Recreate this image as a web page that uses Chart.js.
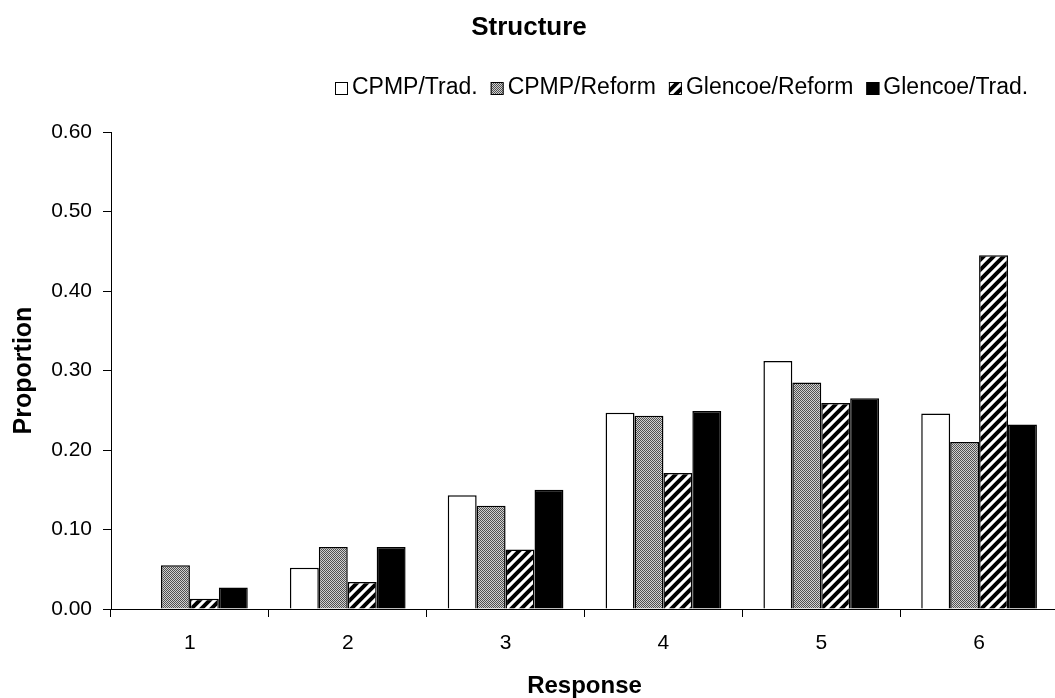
<!DOCTYPE html>
<html>
<head>
<meta charset="utf-8">
<title>Structure</title>
<script src="https://cdn.jsdelivr.net/npm/chart.js@4.4.1/dist/chart.umd.min.js"></script>
<style>
    html, body { margin: 0; padding: 0; background: #fff; overflow: hidden; }
    #wrap { position: absolute; left: 0; top: 0; width: 1062px; height: 698px; }
</style>
</head>
<body>
<div id="wrap"><canvas id="grafico" width="1062" height="698"></canvas></div>
<script>
// Dados
const categorias = ['1', '2', '3', '4', '5', '6'];
const nomesSeries = ['CPMP/Trad.', 'CPMP/Reform', 'Glencoe/Reform', 'Glencoe/Trad.'];
const cpmpTrad = [0.000, 0.052, 0.143, 0.247, 0.312, 0.246];
const cpmpReform = [0.055, 0.078, 0.130, 0.243, 0.285, 0.210];
const glencoeReform = [0.013, 0.034, 0.075, 0.171, 0.259, 0.445];
const glencoeTrad = [0.027, 0.078, 0.150, 0.249, 0.265, 0.232];
const rotulosY = ['0.00', '0.10', '0.20', '0.30', '0.40', '0.50', '0.60'];

const fonte = '"Liberation Sans", Arial, Helvetica, sans-serif';

// Padrão cinza pontilhado
function padraoPontilhado(ctx) {
    const c = document.createElement('canvas');
    c.width = 2; c.height = 2;
    const g = c.getContext('2d');
    g.fillStyle = '#d0d0d0';
    g.fillRect(0, 0, 2, 2);
    g.fillStyle = '#505050';
    g.fillRect(0, 0, 1, 1);
    g.fillRect(1, 1, 1, 1);
    return ctx.createPattern(c, 'repeat');
}

// Padrão de listras diagonais
function padraoListrado(ctx) {
    const s = 10;
    const c = document.createElement('canvas');
    c.width = s; c.height = s;
    const g = c.getContext('2d');
    g.fillStyle = '#fff';
    g.fillRect(0, 0, s, s);
    g.strokeStyle = '#000';
    g.lineWidth = 4;
    g.beginPath();
    g.moveTo(-s / 2, s / 2); g.lineTo(s / 2, -s / 2);
    g.moveTo(0, s); g.lineTo(s, 0);
    g.moveTo(s / 2, s * 1.5); g.lineTo(s * 1.5, s / 2);
    g.stroke();
    return ctx.createPattern(c, 'repeat');
}

// Título e legenda desenhados à mão
const tituloLegenda = {
    id: 'tituloLegenda',
    afterDraw(chart) {
        const ctx = chart.ctx;
        ctx.save();
        ctx.fillStyle = '#000';
        ctx.textAlign = 'center';
        ctx.textBaseline = 'middle';
        ctx.font = 'bold 26px ' + fonte;
        ctx.fillText('Structure', 529, 28);

        ctx.textAlign = 'left';
        ctx.font = '23px ' + fonte;
        const box = 13;
        const y = 88;
        let x = 335;
        chart.data.datasets.forEach(ds => {
            ctx.fillStyle = ds.backgroundColor;
            ctx.fillRect(x, Math.round(y - box / 2), box, box);
            ctx.strokeStyle = '#000';
            ctx.lineWidth = 1;
            ctx.strokeRect(x + 0.5, Math.round(y - box / 2) + 0.5, box - 1, box - 1);
            x += box + 4;
            ctx.fillStyle = '#000';
            ctx.fillText(ds.label, x, y);
            x += ctx.measureText(ds.label).width + 13;
        });
        ctx.restore();
    }
};

const ctx = document.getElementById('grafico').getContext('2d');
const cinza = padraoPontilhado(ctx);
const listras = padraoListrado(ctx);

const estiloBarra = { borderColor: '#000', borderWidth: 1.5 };

new Chart(ctx, {
    type: 'bar',
    data: {
        labels: categorias,
        datasets: [
            Object.assign({ label: nomesSeries[0], data: cpmpTrad, backgroundColor: '#fff' }, estiloBarra),
            Object.assign({ label: nomesSeries[1], data: cpmpReform, backgroundColor: cinza }, estiloBarra),
            Object.assign({ label: nomesSeries[2], data: glencoeReform, backgroundColor: listras }, estiloBarra),
            Object.assign({ label: nomesSeries[3], data: glencoeTrad, backgroundColor: '#000' }, estiloBarra)
        ]
    },
    options: {
        responsive: false,
        animation: false,
        layout: { padding: { left: 0, top: 132, right: 4, bottom: 0 } },
        datasets: { bar: { categoryPercentage: 0.733, barPercentage: 1 } },
        scales: {
            x: {
                offset: true,
                grid: { offset: true, drawOnChartArea: false, tickLength: 8, color: '#000' },
                border: { color: '#000' },
                ticks: { color: '#000', font: { family: fonte, size: 21 }, padding: 14 },
                title: {
                    display: true,
                    text: 'Response',
                    color: '#000',
                    font: { family: fonte, size: 24, weight: 'bold', lineHeight: 1.0 },
                    padding: 0
                },
                afterFit(s) { s.height = 89; }
            },
            y: {
                min: 0,
                max: 0.6,
                ticks: {
                    stepSize: 0.1,
                    color: '#000',
                    font: { family: fonte, size: 21 },
                    padding: 11,
                    callback: (v, i) => rotulosY[i]
                },
                grid: { drawOnChartArea: false, tickLength: 8, color: '#000' },
                border: { color: '#000' },
                title: {
                    display: true,
                    text: 'Proportion',
                    color: '#000',
                    font: { family: fonte, size: 25, weight: 'bold' },
                    padding: { top: 9, bottom: 0 }
                },
                afterFit(s) { s.width = 111; }
            }
        },
        plugins: {
            legend: { display: false },
            tooltip: { enabled: false }
        }
    },
    plugins: [tituloLegenda]
});
</script>
</body>
</html>
